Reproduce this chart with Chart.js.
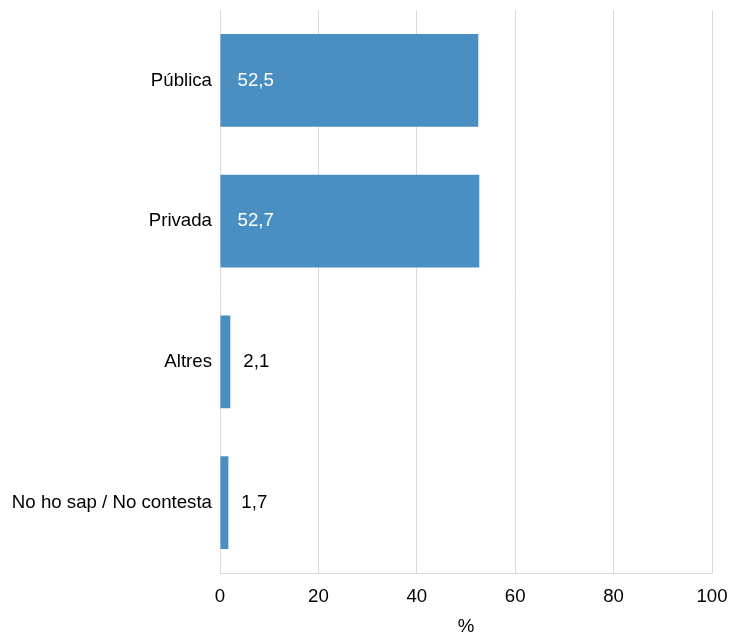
<!DOCTYPE html>
<html>
<head>
<meta charset="utf-8">
<script src="https://cdn.jsdelivr.net/npm/chart.js@4/dist/chart.umd.min.js"></script>
<style>
html,body{margin:0;padding:0;background:#fff;}
#wrap{width:732px;height:632px;}
</style>
</head>
<body>
<div id="wrap"><canvas id="c" width="732" height="632"></canvas></div>
<script>
const categories = ["Pública", "Privada", "Altres", "No ho sap / No contesta"];
const values = [52.5, 52.7, 2.1, 1.7];
const xTicks = [0, 20, 40, 60, 80, 100];
const axisTitle = "%";

const FONT = "'Liberation Sans', Arial, sans-serif";
const FS = 18.67;

const labelPlugin = {
  id: 'valueLabels',
  afterDatasetsDraw(chart) {
    const ctx = chart.ctx;
    const meta = chart.getDatasetMeta(0);
    ctx.save();
    ctx.font = FS + "px " + FONT;
    ctx.textBaseline = 'middle';
    ctx.textAlign = 'left';
    meta.data.forEach((bar, i) => {
      const v = values[i];
      const txt = v.toFixed(1).replace('.', ',');
      if (v > 10) {
        ctx.fillStyle = '#ffffff';
        ctx.fillText(txt, bar.base + 17, bar.y);
      } else {
        ctx.fillStyle = '#000000';
        ctx.fillText(txt, bar.x + 13, bar.y);
      }
    });
    ctx.restore();
  }
};

new Chart(document.getElementById('c'), {
  type: 'bar',
  data: {
    labels: categories,
    datasets: [{
      data: values,
      backgroundColor: '#4a8fc2',
      borderWidth: 0,
      barPercentage: 0.66,
      categoryPercentage: 1.0
    }]
  },
  options: {
    indexAxis: 'y',
    responsive: false,
    animation: false,
    layout: { padding: { top: 10, right: 20, left: 0, bottom: 0 } },
    plugins: { legend: { display: false }, tooltip: { enabled: false } },
    scales: {
      x: {
        min: 0, max: 100,
        afterBuildTicks(scale) { scale.ticks = xTicks.map(v => ({ value: v })); },
        ticks: { color: '#000', font: { family: FONT, size: FS }, padding: 13 },
        grid: { color: '#d9d9d9', lineWidth: 1, drawTicks: false },
        border: { color: '#d9d9d9' },
        title: { display: true, text: axisTitle, color: '#000', font: { family: FONT, size: FS }, padding: { top: 7, bottom: -6 } },
        afterFit(scale) { scale.paddingLeft = 0; scale.paddingRight = 0; scale.height = 59; }
      },
      y: {
        ticks: { color: '#000', font: { family: FONT, size: FS }, padding: 8 },
        grid: { display: false, drawTicks: false },
        border: { display: false },
        afterFit(scale) { scale.width = 220; scale.paddingTop = 0; scale.paddingBottom = 0; }
      }
    }
  },
  plugins: [labelPlugin]
});
</script>
</body>
</html>
